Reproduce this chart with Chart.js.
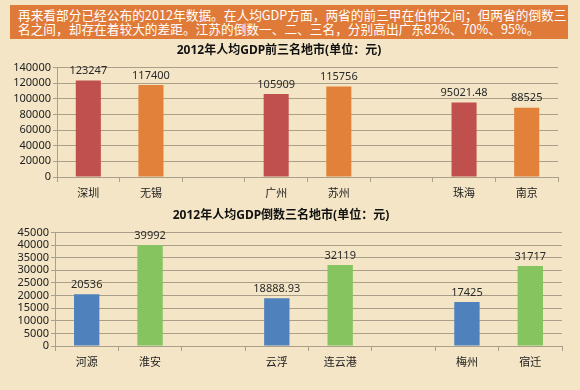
<!DOCTYPE html>
<html>
<head>
<meta charset="utf-8">
<script src="https://cdn.jsdelivr.net/npm/chart.js@4.4.1/dist/chart.umd.min.js"></script>
<style>
  html, body { margin: 0; padding: 0; }
  body { width: 580px; height: 390px; background: #f3e5c5; position: relative; overflow: hidden;
         font-family: "Noto Sans CJK SC", "Noto Sans", sans-serif; }
  .banner { position: absolute; left: 10px; top: 5px; width: 546px; padding: 3px 4px 3px 8px;
            background: #e07a39; color: #fff; font-size: 12.7px; line-height: 14px; white-space: nowrap; height: 28px; }
  .box { position: absolute; left: 0; width: 580px; }
  #c1box { top: 41px; height: 172px; }
  #c2box { top: 206px; height: 176px; }
</style>
</head>
<body>
<div class="banner">再来看部分已经公布的2012年数据。在人均GDP方面，两省的前三甲在伯仲之间；但两省的倒数三<br>名之间，却存在着较大的差距。江苏的倒数一、二、三名，分别高出广东82%、70%、95%。</div>
<div class="box" id="c1box"><canvas id="c1"></canvas></div>
<div class="box" id="c2box"><canvas id="c2"></canvas></div>
<script>
// top three cities per province, 2012 GDP per capita (yuan)
var topCities = ["深圳", "无锡", "", "广州", "苏州", "", "珠海", "南京"];
var topValues = [123247, 117400, null, 105909, 115756, null, 95021.48, 88525];
var topTicks = [0, 20000, 40000, 60000, 80000, 100000, 120000, 140000];

// bottom three
var lowCities = ["河源", "淮安", "", "云浮", "连云港", "", "梅州", "宿迁"];
var lowValues = [20536, 39992, null, 18888.93, 32119, null, 17425, 31717];
var lowTicks = [0, 5000, 10000, 15000, 20000, 25000, 30000, 35000, 40000, 45000];

var FONT = "'Noto Sans', 'Noto Sans CJK SC', sans-serif";
var GRID = "#aaa08a";

var valueLabels = {
	id: "valueLabels",
	afterDatasetsDraw: function (chart) {
		var ctx = chart.ctx;
		var ds = chart.data.datasets[0];
		ctx.save();
		ctx.font = "11px " + FONT;
		ctx.fillStyle = "#2a2a2a";
		ctx.textAlign = "center";
		ctx.textBaseline = "bottom";
		chart.getDatasetMeta(0).data.forEach(function (bar, i) {
			var v = ds.data[i];
			if (v == null) return;
			ctx.fillText(String(v), bar.x, bar.y - 4);
		});
		ctx.restore();
	},
};

function makeChart(id, title, labels, values, ticks, colors, left, right) {
	var max = ticks[ticks.length - 1];
	return new Chart(document.getElementById(id), {
		type: "bar",
		data: {
			labels: labels,
			datasets: [{
				data: values,
				// slot pattern: A B gap A B gap A B
				backgroundColor: values.map(function (v, i) { return i % 3 === 0 ? colors[0] : colors[1]; }),
				categoryPercentage: 1,
				barPercentage: 0.4,
			}],
		},
		options: {
			responsive: true,
			maintainAspectRatio: false,
			animation: false,
			layout: { padding: { left: 0, right: 580 - right, top: 0, bottom: 0 } },
			plugins: {
				legend: { display: false },
				tooltip: { enabled: false },
				title: {
					display: true,
					text: title,
					color: "#111",
					font: { family: FONT, size: 12, weight: "bold" },
					padding: { top: 2, bottom: 10 },
				},
			},
			scales: {
				x: {
					grid: { display: true, drawOnChartArea: false, offset: true, tickLength: 5, color: GRID },
					border: { color: GRID },
					ticks: { color: "#222", font: { family: FONT, size: 11 }, padding: 5 },
					afterFit: function (s) { s.height = 36; },
				},
				y: {
					min: 0,
					max: max,
					afterBuildTicks: function (s) { s.ticks = ticks.map(function (t) { return { value: t }; }); },
					grid: { color: GRID, tickLength: 4 },
					border: { color: GRID },
					ticks: {
						autoSkip: false,
						color: "#222",
						font: { family: FONT, size: 11 },
						padding: 2,
						callback: function (v) { return String(v); },
					},
					afterFit: function (s) { s.width = left; },
				},
			},
		},
		plugins: [valueLabels],
	});
}

makeChart("c1", "2012年人均GDP前三名地市(单位：元)", topCities, topValues, topTicks, ["#c0504d", "#e2813a"], 57, 558);
makeChart("c2", "2012年人均GDP倒数三名地市(单位：元)", lowCities, lowValues, lowTicks, ["#4f81bd", "#85c45f"], 55, 562);
</script>
</body>
</html>
